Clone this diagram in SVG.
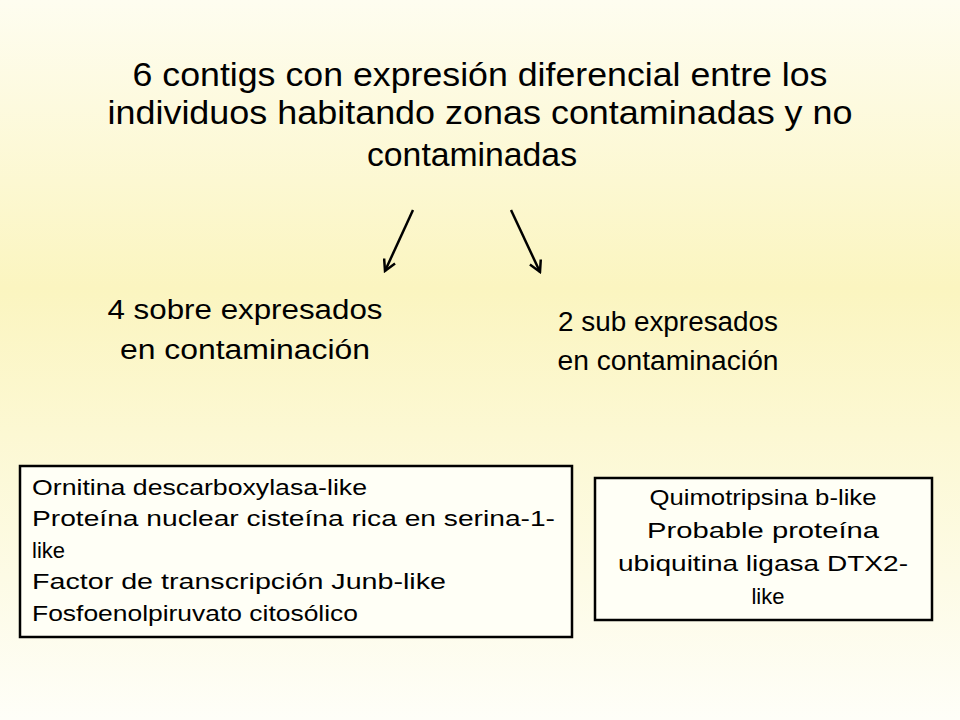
<svg xmlns="http://www.w3.org/2000/svg" width="960" height="720" viewBox="0 0 960 720">
<defs>
<linearGradient id="bg" x1="0" y1="0" x2="0" y2="1">
<stop offset="0" stop-color="#fefdf0"/>
<stop offset="0.4" stop-color="#fbf5c0"/>
<stop offset="1" stop-color="#fefef8"/>
</linearGradient>
<marker id="ah" markerWidth="14" markerHeight="14" refX="12" refY="7" orient="auto" markerUnits="userSpaceOnUse">
<path d="M1,1 L12,7 L1,13" fill="none" stroke="#000" stroke-width="2.5"/>
</marker>
<style>
text{font-family:"Liberation Sans",Arial,sans-serif;fill:#000}
.t{font-size:33px;text-anchor:middle}
.m{font-size:27px;text-anchor:middle}
.s{font-size:22px}
.c{font-size:22px;text-anchor:middle}
.box{fill:#fffff6;stroke:#000;stroke-width:2.5}
</style>
</defs>
<rect width="960" height="720" fill="url(#bg)"/>
<g id="title">
<text class="t" x="480" y="86" textLength="695" lengthAdjust="spacingAndGlyphs">6 contigs con expresión diferencial entre los</text>
<text class="t" x="480" y="124" textLength="745" lengthAdjust="spacingAndGlyphs">individuos habitando zonas contaminadas y no</text>
<text class="t" x="472" y="166" textLength="210" lengthAdjust="spacingAndGlyphs">contaminadas</text>
</g>
<g id="connectors" stroke="#000" stroke-width="2.5" fill="none">
<line x1="413" y1="210" x2="385" y2="271" marker-end="url(#ah)"/>
<line x1="511" y1="210" x2="540" y2="272" marker-end="url(#ah)"/>
</g>
<g id="left-label">
<text class="m" x="245" y="319" textLength="275" lengthAdjust="spacingAndGlyphs">4 sobre expresados</text>
<text class="m" x="245" y="359" textLength="250" lengthAdjust="spacingAndGlyphs">en contaminación</text>
</g>
<g id="right-label">
<text class="m" x="668" y="331" textLength="220" lengthAdjust="spacingAndGlyphs">2 sub expresados</text>
<text class="m" x="668" y="370" textLength="221" lengthAdjust="spacingAndGlyphs">en contaminación</text>
</g>
<g id="left-box">
<rect class="box" x="20" y="466" width="552" height="171"/>
<text class="s" x="32" y="495" textLength="335" lengthAdjust="spacingAndGlyphs">Ornitina descarboxylasa-like</text>
<text class="s" x="32" y="526" textLength="523" lengthAdjust="spacingAndGlyphs">Proteína nuclear cisteína rica en serina-1-</text>
<text class="s" x="32" y="558">like</text>
<text class="s" x="32" y="589" textLength="414" lengthAdjust="spacingAndGlyphs">Factor de transcripción Junb-like</text>
<text class="s" x="32" y="621" textLength="326" lengthAdjust="spacingAndGlyphs">Fosfoenolpiruvato citosólico</text>
</g>
<g id="right-box">
<rect class="box" x="595" y="478" width="337" height="142"/>
<text class="c" x="763" y="505" textLength="227" lengthAdjust="spacingAndGlyphs">Quimotripsina b-like</text>
<text class="c" x="763" y="538" textLength="232" lengthAdjust="spacingAndGlyphs">Probable proteína</text>
<text class="c" x="763" y="571" textLength="290" lengthAdjust="spacingAndGlyphs">ubiquitina  ligasa DTX2-</text>
<text class="c" x="768" y="604">like</text>
</g>
</svg>
